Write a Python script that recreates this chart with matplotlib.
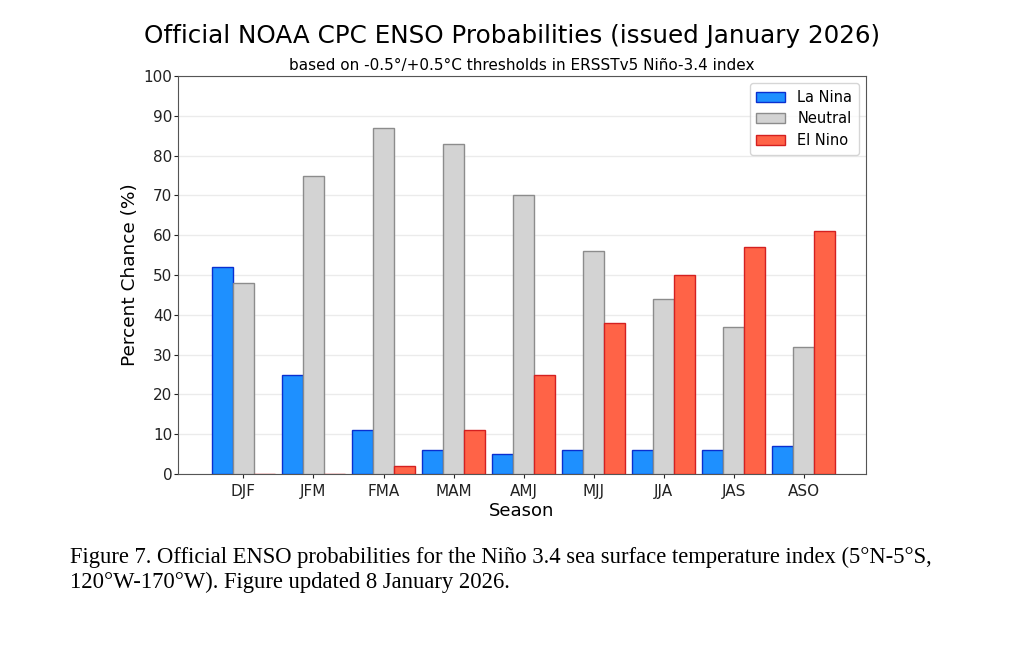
import numpy as np
import matplotlib
matplotlib.use("Agg")
import matplotlib.pyplot as plt

seasons = ["DJF", "JFM", "FMA", "MAM", "AMJ", "MJJ", "JJA", "JAS", "ASO"]
la_nina = [52, 25, 11, 6, 5, 6, 6, 6, 7]
neutral = [48, 75, 87, 83, 70, 56, 44, 37, 32]
el_nino = [0, 0, 2, 11, 25, 38, 50, 57, 61]

fig = plt.figure(figsize=(10.2, 6.48), dpi=100)
ax = fig.add_axes([178 / 1020, 1 - 474 / 648, 688 / 1020, 398 / 648])

x = np.arange(len(seasons))
w = 0.3
ax.bar(x - w, la_nina, w, color="#1e90ff", edgecolor="#0a2fd0", linewidth=1, label="La Nina", zorder=3)
ax.bar(x, neutral, w, color="#d3d3d3", edgecolor="#8c8c8c", linewidth=1, label="Neutral", zorder=3)
ax.bar(x + w, el_nino, w, color="#ff6347", edgecolor="#d42020", linewidth=1, label="El Nino", zorder=3)

ax.set_xlim(-0.935, 8.89)
ax.set_ylim(0, 100)
ax.set_yticks(range(0, 101, 10))
ax.set_xticks(x)
ax.set_xticklabels(seasons)
ax.tick_params(labelsize=11, colors="#222222", length=3)
ax.tick_params(axis="x", pad=4)
ax.tick_params(axis="y", pad=1)
ax.grid(axis="y", color="#ebebeb", linewidth=1, zorder=0)
for s in ax.spines.values():
    s.set_color("#555555")

ax.set_xlabel("Season", fontsize=13, labelpad=2)
ax.set_ylabel("Percent Chance (%)", fontsize=13.3, labelpad=3)
ax.set_title("based on -0.5\u00b0/+0.5\u00b0C thresholds in ERSSTv5 Ni\u00f1o-3.4 index", fontsize=11, pad=4)
fig.text(0.502, 1 - 36 / 648, "Official NOAA CPC ENSO Probabilities (issued January 2026)", fontsize=17.7, ha="center", va="center")

ax.legend(loc="upper right", fontsize=10.5, handlelength=2.0, borderpad=0.45, labelspacing=0.45)

fig.text(70 / 1020, 1 - 557 / 648,
         "Figure 7. Official ENSO probabilities for the Ni\u00f1o 3.4 sea surface temperature index (5\u00b0N-5\u00b0S,",
         family="Liberation Serif", fontsize=16.3, va="center")
fig.text(70 / 1020, 1 - 582 / 648,
         "120\u00b0W-170\u00b0W). Figure updated 8 January 2026.",
         family="Liberation Serif", fontsize=16.3, va="center")

fig.savefig("out.png", dpi=100)
